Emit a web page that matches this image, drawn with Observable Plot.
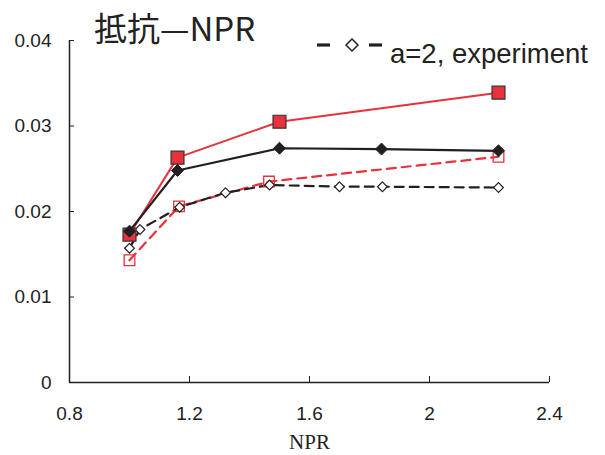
<!DOCTYPE html>
<html>
<head>
<meta charset="utf-8">
<script src="https://cdn.jsdelivr.net/npm/d3@7"></script>
<script src="https://cdn.jsdelivr.net/npm/@observablehq/plot@0.6"></script>
<style>
  html, body { margin: 0; padding: 0; background: #fff; }
  #wrap { position: relative; width: 605px; height: 455px; }
  #title { position: absolute; left: 94px; top: 11px; font-family: "Noto Sans CJK JP", "Noto Sans", sans-serif; font-size: 33px; color: #222; white-space: nowrap; line-height: 1; }
  #legend { position: absolute; left: 312px; top: 30px; font-family: "Liberation Sans", Arial, sans-serif; font-size: 27.5px; color: #222; white-space: nowrap; display: flex; align-items: flex-start; }
  #legend svg { margin-top: 4px; }
  #legend span { margin-top: 8px; }
</style>
</head>
<body>
<div id="wrap">
  <div id="chart"></div>
  <div id="title">抵抗—NPR</div>
  <div id="legend">
    <svg width="78" height="24"><line x1="5" y1="11" x2="18" y2="11" stroke="#222" stroke-width="3.2"></line><line x1="57" y1="11" x2="70" y2="11" stroke="#222" stroke-width="3.2"></line><path d="M34,11 L40,5 L46,11 L40,17 Z" fill="#fff" stroke="#222" stroke-width="1.5"></path></svg>
    <span>a=2, experiment</span>
  </div>
</div>
<script>
const xTicks = [0.8, 1.2, 1.6, 2, 2.4];
const yTicks = [0, 0.01, 0.02, 0.03, 0.04];

const xRedSolid = [1.0, 1.16, 1.5, 2.23];
const yRedSolid = [0.0173, 0.0263, 0.0305, 0.0339];

const xBlackSolid = [1.0, 1.16, 1.5, 1.84, 2.23];
const yBlackSolid = [0.0177, 0.0248, 0.0274, 0.0273, 0.0271];

const xRedDash = [1.0, 1.165, 1.465, 2.23];
const yRedDash = [0.0143, 0.0206, 0.0235, 0.0264];

const xBlackDash = [1.0, 1.035, 1.167, 1.32, 1.467, 1.70, 1.843, 2.23];
const yBlackDash = [0.0157, 0.0179, 0.0205, 0.0222, 0.0231, 0.0229, 0.0229, 0.0228];

const toRows = (xs, ys) => xs.map((x, i) => ({x, y: ys[i]}));
const redSolid = toRows(xRedSolid, yRedSolid);
const blackSolid = toRows(xBlackSolid, yBlackSolid);
const redDash = toRows(xRedDash, yRedDash);
const blackDash = toRows(xBlackDash, yBlackDash);

const RED = "#e8313a";
const BLACK = "#231f20";

const chart = Plot.plot({
  width: 605,
  height: 455,
  marginLeft: 69,
  marginRight: 56,
  marginTop: 40,
  marginBottom: 73,
  style: {background: "#fff", fontFamily: "'Liberation Sans', Arial, sans-serif", fontSize: "19px", color: "#222", overflow: "visible"},
  x: {domain: [0.8, 2.4], ticks: xTicks, label: null},
  y: {domain: [0, 0.04], ticks: yTicks, label: null},
  marks: [
    Plot.axisX({ticks: xTicks, tickSize: -6, tickPadding: 30, fontSize: 19, tickFormat: d => String(d), label: null, stroke: BLACK}),
    Plot.axisY({ticks: yTicks, tickSize: -5, tickPadding: 23, fontSize: 19, tickFormat: d => d === 0 ? "0" : d.toFixed(2), label: null, stroke: BLACK}),
    Plot.ruleX([0.8], {y1: 0, y2: 0.04, stroke: BLACK, strokeWidth: 1.5}),
    Plot.ruleY([0], {x1: 0.8, x2: 2.4, stroke: BLACK, strokeWidth: 1.5}),
    Plot.text(["NPR"], {frameAnchor: "bottom", lineAnchor: "bottom", dy: 66, fontFamily: "'Liberation Serif', 'Times New Roman', serif", fontSize: 21, fill: BLACK}),
    Plot.line(redDash, {x: "x", y: "y", stroke: RED, strokeWidth: 2.2, strokeDasharray: "9,6"}),
    Plot.line(blackDash, {x: "x", y: "y", stroke: BLACK, strokeWidth: 2.2, strokeDasharray: "9,6"}),
    Plot.dot(redDash, {x: "x", y: "y", symbol: "square", r: 6, fill: "#fff", fillOpacity: 0, stroke: RED, strokeWidth: 1.3}),
    Plot.dot(blackDash, {x: "x", y: "y", symbol: "diamond2", r: 4.4, fill: "#fff", stroke: BLACK, strokeWidth: 1.2}),
    Plot.line(redSolid, {x: "x", y: "y", stroke: RED, strokeWidth: 2}),
    Plot.line(blackSolid, {x: "x", y: "y", stroke: BLACK, strokeWidth: 2.2}),
    Plot.dot(redSolid, {x: "x", y: "y", symbol: "square", r: 7.3, fill: RED, stroke: "#333", strokeWidth: 1.2}),
    Plot.dot(blackSolid, {x: "x", y: "y", symbol: "diamond2", r: 5.4, fill: BLACK, stroke: BLACK, strokeWidth: 1})
  ]
});
document.getElementById("chart").appendChild(chart);
</script>
</body>
</html>
